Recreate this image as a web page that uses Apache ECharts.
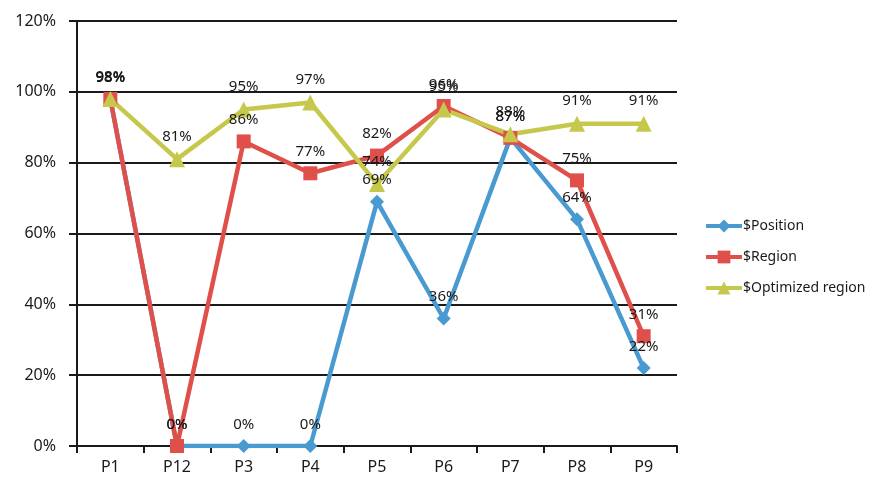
<!DOCTYPE html>
<html>
<head>
<meta charset="utf-8">
<script src="https://cdn.jsdelivr.net/npm/echarts@6/dist/echarts.min.js"></script>
<style>
  html, body { margin: 0; padding: 0; background: #fff; }
  #chart { width: 879px; height: 490px; }
</style>
</head>
<body>
<div id="chart"></div>
<script>
// Categories along the x axis
var categories = ['P1', 'P12', 'P3', 'P4', 'P5', 'P6', 'P7', 'P8', 'P9'];

// Series values, in percent
var positionValues  = [98, 0, 0, 0, 69, 36, 87, 64, 22];
var regionValues    = [98, 0, 86, 77, 82, 96, 87, 75, 31];
var optimizedValues = [98, 81, 95, 97, 74, 95, 88, 91, 91];

// Y axis range and step, in percent
var yMin = 0, yMax = 120, yStep = 20;

var FONT = '"Noto Sans", "Open Sans", sans-serif';
var AXIS_COLOR = '#1a1a1a';

function makeSeries(name, data, color, symbol, size) {
  return {
    name: name,
    type: 'line',
    data: data,
    symbol: symbol,
    symbolSize: size,
    lineStyle: { color: color, width: 4.5 },
    itemStyle: { color: color },
    label: {
      show: true,
      position: 'top',
      distance: 7,
      color: '#1a1a1a',
      fontFamily: FONT,
      fontSize: 15,
      formatter: function (p) { return Math.round(p.value) + '%'; }
    },
    emphasis: { disabled: true },
    animation: false
  };
}

var chart = echarts.init(document.getElementById('chart'), null, { renderer: 'canvas' });
chart.setOption({
  backgroundColor: '#ffffff',
  animation: false,
  grid: { left: 77, right: 202, top: 21, bottom: 44, containLabel: false },
  legend: {
    orient: 'vertical',
    left: 699,
    top: 214,
    itemWidth: 36,
    itemHeight: 16,
    itemGap: 17,
    lineStyle: { width: 4 },
    textStyle: { fontFamily: FONT, fontSize: 14, color: '#1a1a1a', padding: [0, 0, 0, -4] },
    data: ['$Position', '$Region', '$Optimized region']
  },
  xAxis: {
    type: 'category',
    data: categories,
    boundaryGap: true,
    axisLine: { show: true, lineStyle: { color: AXIS_COLOR, width: 2 } },
    axisTick: { show: true, inside: false, length: 7, lineStyle: { color: AXIS_COLOR, width: 2 } },
    axisLabel: { margin: 13, fontFamily: FONT, fontSize: 16, color: '#1a1a1a' },
    splitLine: { show: false }
  },
  yAxis: {
    type: 'value',
    min: yMin,
    max: yMax,
    interval: yStep,
    axisLine: { show: true, lineStyle: { color: AXIS_COLOR, width: 2 } },
    axisTick: { show: true, inside: false, length: 8, lineStyle: { color: AXIS_COLOR, width: 2 } },
    axisLabel: { margin: 21, fontFamily: FONT, fontSize: 16, color: '#1a1a1a', formatter: '{value}%' },
    splitLine: { show: true, lineStyle: { color: AXIS_COLOR, width: 2 } }
  },
  series: [
    makeSeries('$Position', positionValues, '#4a9ad2', 'diamond', 14),
    makeSeries('$Region', regionValues, '#e0504b', 'rect', 14),
    makeSeries('$Optimized region', optimizedValues, '#c6c84b', 'triangle', 16)
  ]
});
</script>
</body>
</html>
